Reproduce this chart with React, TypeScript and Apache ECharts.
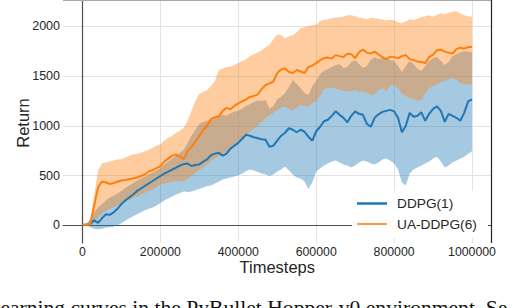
import React, { useEffect, useRef } from "react";
import * as echarts from "echarts";

const steps = [
  0, 10000, 20000, 30000, 40000, 50000, 60000, 70000, 80000, 90000,
  100000, 110000, 120000, 130000, 140000, 150000, 160000, 170000, 180000, 190000,
  200000, 210000, 220000, 230000, 240000, 250000, 260000, 270000, 280000, 290000,
  300000, 310000, 320000, 330000, 340000, 350000, 360000, 370000, 380000, 390000,
  400000, 410000, 420000, 430000, 440000, 450000, 460000, 470000, 480000, 490000,
  500000, 510000, 520000, 530000, 540000, 550000, 560000, 570000, 580000, 590000,
  600000, 610000, 620000, 630000, 640000, 650000, 660000, 670000, 680000, 690000,
  700000, 710000, 720000, 730000, 740000, 750000, 760000, 770000, 780000, 790000,
  800000, 810000, 820000, 830000, 840000, 850000, 860000, 870000, 880000, 890000,
  900000, 910000, 920000, 930000, 940000, 950000, 960000, 970000, 980000, 990000,
  1000000,
];

const ddpgMean = [
  5, 5, 10, 50, 25, 70, 110, 105, 130, 165,
  215, 250, 280, 310, 345, 370, 395, 420, 445, 470,
  495, 520, 540, 560, 580, 600, 615, 620, 596, 605,
  612, 640, 662, 705, 720, 728, 700, 720, 770, 800,
  828, 870, 910, 900, 885, 875, 865, 860, 790, 800,
  850, 900, 930, 975, 960, 935, 960, 940, 890, 850,
  945, 990, 1045, 1060, 1100, 1145, 1110, 1080, 1035, 1100,
  1145, 1120, 1110, 1020, 990, 1080, 1115, 1140, 1150, 1160,
  1145, 1080, 935, 1000, 1130, 1090, 1100, 1135, 1050, 1120,
  1170, 1195, 1150, 1040, 1120, 1100, 1080, 1050, 1130, 1245,
  1265,
];
const ddpgLow = [
  0, 0, -20, -35, -40, -35, -25, -20, -15, 0,
  20, 45, 70, 90, 110, 130, 150, 165, 180, 200,
  225, 250, 270, 290, 310, 325, 340, 335, 340, 355,
  365, 380, 395, 400, 420, 440, 460, 470, 480, 490,
  500, 520, 545, 560, 550, 535, 520, 510, 495, 510,
  540, 560, 590, 550, 510, 480, 470, 440, 365, 430,
  540, 570, 600, 620, 640, 650, 630, 610, 600, 580,
  600, 630, 650, 640, 620, 610, 630, 660, 670, 650,
  620, 560, 430, 400, 520, 560, 580, 600, 620, 640,
  670, 690, 640, 580, 600, 630, 650, 670, 690, 720,
  745,
];
const ddpgHigh = [
  10, 15, 60, 130, 180, 215, 250, 280, 300, 320,
  345, 375, 400, 425, 450, 470, 490, 510, 530, 550,
  575, 610, 640, 670, 700, 730, 760, 830, 900, 960,
  1020, 1035, 1050, 1060, 1075, 1090, 1110, 1100, 1125, 1140,
  1150, 1170, 1200, 1220, 1240, 1255, 1250, 1260, 1170, 1200,
  1270, 1290, 1330, 1390, 1460, 1420, 1380, 1330, 1310, 1400,
  1450, 1520, 1550, 1570, 1590, 1610, 1620, 1580, 1590, 1640,
  1660, 1620, 1580, 1600, 1660, 1690, 1670, 1680, 1680, 1660,
  1650, 1600, 1540, 1600, 1650, 1620, 1570, 1550, 1600, 1650,
  1680, 1690, 1650, 1610, 1640, 1700, 1720, 1740, 1750, 1745,
  1740,
];

const uaMean = [
  5, 5, 10, 200, 380, 440, 430, 415, 425, 440,
  450, 455, 465, 470, 480, 495, 510, 540, 555, 575,
  595, 640, 670, 700, 710, 690, 665, 745, 790, 840,
  900, 960, 1000, 1070, 1085, 1095, 1150, 1180, 1165, 1200,
  1225, 1245, 1265, 1290, 1300, 1315, 1370, 1410, 1425, 1445,
  1530, 1565, 1575, 1540, 1530, 1560, 1545, 1530, 1590, 1605,
  1630, 1660, 1680, 1685, 1675, 1710, 1700, 1690, 1725, 1720,
  1680, 1740, 1765, 1735, 1725, 1745, 1715, 1690, 1670, 1695,
  1690, 1680, 1700, 1710, 1670, 1660, 1645, 1640, 1630, 1690,
  1715, 1760, 1765, 1745, 1735, 1725, 1770, 1785, 1775, 1790,
  1795,
];
const uaLow = [
  0, 0, 0, 40, 70, 120, 145, 165, 180, 200,
  220, 240, 255, 275, 290, 310, 325, 345, 360, 385,
  410, 420, 430, 440, 445, 440, 440, 470, 500, 525,
  555, 580, 610, 650, 670, 700, 720, 740, 780, 820,
  850, 880, 910, 940, 970, 1000, 1040, 1080, 1100, 1130,
  1160, 1180, 1200, 1170, 1150, 1180, 1210, 1200, 1190, 1230,
  1250, 1300, 1370, 1380, 1380, 1375, 1360, 1350, 1345, 1350,
  1360, 1340, 1345, 1330, 1310, 1320, 1360, 1380, 1350, 1400,
  1410, 1380, 1320, 1300, 1280, 1270, 1250, 1260, 1330, 1380,
  1400, 1420, 1440, 1450, 1470, 1480, 1460, 1430, 1420, 1415,
  1420,
];
const uaHigh = [
  10, 15, 50, 300, 550, 620, 630, 640, 650, 660,
  665, 680, 700, 715, 720, 730, 745, 760, 780, 800,
  815, 850, 880, 900, 930, 950, 980, 1050, 1150, 1250,
  1320, 1340, 1360, 1400, 1450, 1560, 1575, 1590, 1595, 1610,
  1630, 1650, 1665, 1700, 1720, 1740, 1760, 1790, 1810, 1870,
  1920, 1910, 1880, 1900, 1910, 1940, 1980, 1990, 2000, 2010,
  2015, 2050, 2065, 2070, 2080, 2085, 2090, 2095, 2110, 2110,
  2100, 2085, 2080, 2070, 2085, 2080, 2075, 2065, 2060, 2065,
  2060, 2040, 2030, 2050, 2070, 2065, 2075, 2090, 2100, 2110,
  2095, 2115, 2130, 2120, 2135, 2145, 2150, 2130, 2110, 2100,
  2095,
];

const xTicks = [0, 200000, 400000, 600000, 800000, 1000000];
const yTicks = [0, 500, 1000, 1500, 2000];
const seriesNames = ["DDPG(1)", "UA-DDPG(6)"];
const caption = "Learning curves in the PyBullet Hopper-v0 environment. Se";

const BLUE = "#1f77b4";
const ORANGE = "#ff7f0e";
const SANS = "'Liberation Sans', Arial, sans-serif";

function bandSeries(low: number[], high: number[], color: string, z: number) {
  return {
    type: "custom",
    silent: true,
    clip: true,
    z,
    data: [[0, 0]],
    renderItem: (_params: any, api: any) => {
      const pts: number[][] = [];
      for (let i = 0; i < steps.length; i++) pts.push(api.coord([steps[i], high[i]]));
      for (let i = steps.length - 1; i >= 0; i--) pts.push(api.coord([steps[i], low[i]]));
      return {
        type: "polygon",
        shape: { points: pts },
        style: { fill: color, opacity: 0.4 },
      };
    },
  };
}

export default function App() {
  const ref = useRef<HTMLDivElement>(null);
  useEffect(() => {
    if (!ref.current) return;
    const chart = echarts.init(ref.current, null, { renderer: "svg" });
    const gl = 63, gt = 0, gw = 428.5, gh = 243;
    chart.setOption({
      animation: false,
      backgroundColor: "#ffffff",
      grid: { left: gl, top: gt, width: gw, height: gh, containLabel: false },
      xAxis: {
        type: "value",
        min: -50000,
        max: 1050000,
        axisLine: { show: true, lineStyle: { color: "#4d4d4d", width: 1.2 } },
        axisTick: { show: false, customValues: xTicks },
        axisLabel: {
          customValues: xTicks,
          formatter: (v: number) => String(v),
          color: "#262626",
          fontFamily: SANS,
          fontSize: 12.3,
          margin: 3,
        },
        splitLine: { show: true, lineStyle: { color: "#e3e3e3", width: 1 } },
      },
      yAxis: {
        type: "value",
        min: -178,
        max: 2264,
        axisLine: { show: true, lineStyle: { color: "#4d4d4d", width: 1.2 } },
        axisTick: { show: false, customValues: yTicks },
        axisLabel: {
          customValues: yTicks,
          formatter: (v: number) => String(v),
          color: "#262626",
          fontFamily: SANS,
          fontSize: 12.5,
          margin: 3,
        },
        splitLine: { show: true, lineStyle: { color: "#e3e3e3", width: 1 } },
      },
      series: [
        bandSeries(ddpgLow, ddpgHigh, BLUE, 1),
        bandSeries(uaLow, uaHigh, ORANGE, 2),
        {
          name: seriesNames[0],
          type: "line",
          data: steps.map((t, i) => [t, ddpgMean[i]]),
          symbol: "none",
          lineStyle: { color: BLUE, width: 2 },
          z: 3,
        },
        {
          name: seriesNames[1],
          type: "line",
          data: steps.map((t, i) => [t, uaMean[i]]),
          symbol: "none",
          lineStyle: { color: ORANGE, width: 2 },
          z: 4,
        },
      ],
      graphic: [
        { type: "line", shape: { x1: gl, y1: 0.5, x2: gl + gw, y2: 0.5 }, style: { stroke: "#a8a8a8", lineWidth: 1.2 }, z: 10 },
        { type: "line", shape: { x1: gl + gw, y1: 0, x2: gl + gw, y2: gh }, style: { stroke: "#262626", lineWidth: 1.2 }, z: 10 },
        { type: "rect", shape: { x: 352, y: 191, width: 136, height: 47 }, style: { fill: "#ffffff", stroke: "none" }, z: 9 },
        { type: "line", shape: { x1: 357, y1: 203.5, x2: 387, y2: 203.5 }, style: { stroke: BLUE, lineWidth: 2.5 }, z: 10 },
        { type: "line", shape: { x1: 357, y1: 224, x2: 387, y2: 224 }, style: { stroke: ORANGE, lineWidth: 1.6 }, z: 10 },
        { type: "text", x: 397, y: 203.5, style: { text: seriesNames[0], font: `13.7px ${SANS}`, fill: "#262626", textVerticalAlign: "middle" }, z: 10 },
        { type: "text", x: 397, y: 224, style: { text: seriesNames[1], font: `13.7px ${SANS}`, fill: "#262626", textVerticalAlign: "middle" }, z: 10 },
        { type: "text", x: gl + gw / 2, y: 266.7, style: { text: "Timesteps", font: `16.5px ${SANS}`, fill: "#262626", textAlign: "center", textVerticalAlign: "middle" }, z: 10 },
        { type: "text", x: 22.5, y: 123, rotation: Math.PI / 2, style: { text: "Return", font: `16.5px ${SANS}`, fill: "#262626", textAlign: "center", textVerticalAlign: "middle" }, z: 10 },
        { type: "text", x: -12.8, y: 308, style: { text: caption, font: `21.6px 'Liberation Serif', 'Times New Roman', serif`, fill: "#111111", textVerticalAlign: "middle" }, z: 10 },
      ],
    });
    return () => chart.dispose();
  }, []);
  return (
    <div
      ref={ref}
      style={{ position: "fixed", left: 0, top: 0, width: 530, height: 308, overflow: "hidden", background: "#fff" }}
    />
  );
}
